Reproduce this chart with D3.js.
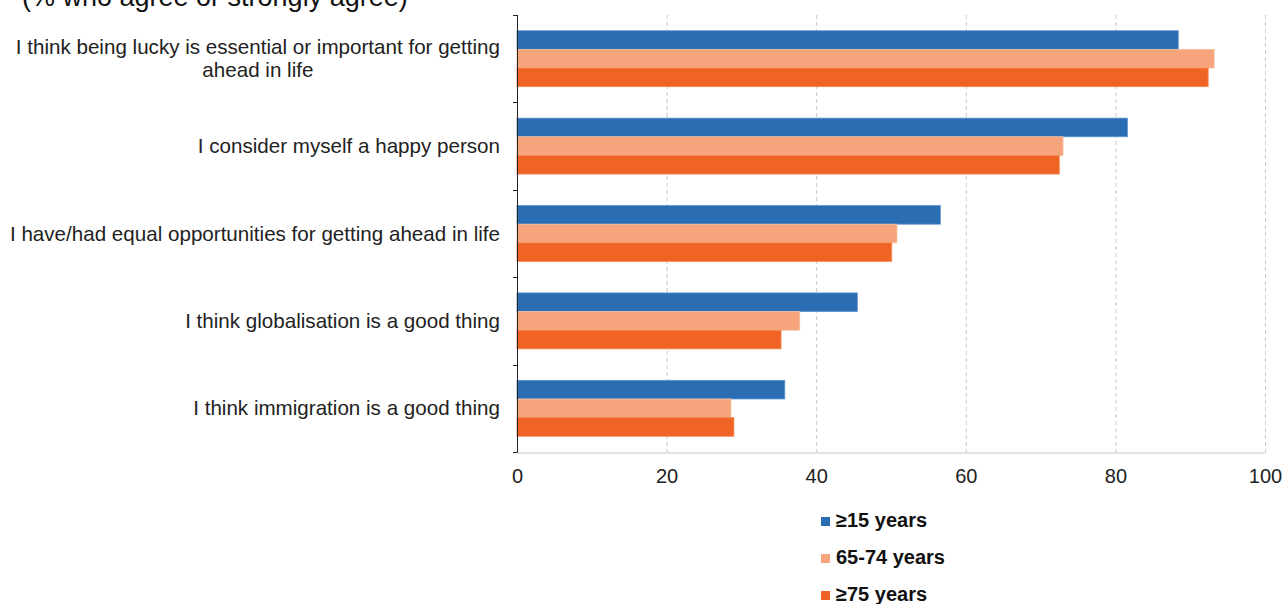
<!DOCTYPE html>
<html>
<head>
<meta charset="utf-8">
<script src="https://cdn.jsdelivr.net/npm/d3@7"></script>
<style>
  html, body { margin: 0; padding: 0; background: #fff; }
  svg { display: block; font-family: "Liberation Sans", Arial, sans-serif; }
</style>
</head>
<body>
<svg id="chart" width="1285" height="604"></svg>
<script>
// Survey statements (top to bottom)
const categories = [
  ["I think being lucky is essential or important for getting", "ahead in life"],
  ["I consider myself a happy person"],
  ["I have/had equal opportunities for getting ahead in life"],
  ["I think globalisation is a good thing"],
  ["I think immigration is a good thing"]
];
const seriesNames = ["\u226515 years", "65-74 years", "\u226575 years"];
const seriesColors = ["#2a6db3", "#f5a47b", "#ef6424"];
const seriesStroke = ["#5d93cc", "#f8c0a2", "#f48a57"];
// % who agree or strongly agree, one array per age group
const age15plus = [88.4, 81.6, 56.6, 45.5, 35.8];
const age65to74 = [93.2, 73.0, 50.8, 37.8, 28.6];
const age75plus = [92.4, 72.5, 50.1, 35.3, 29.0];
const xTicks = [0, 20, 40, 60, 80, 100];
const titleText = "(% who agree or strongly agree)";

const series = [age15plus, age65to74, age75plus];
const svg = d3.select("#chart");

const plotLeft = 517, plotRight = 1265, plotTop = 15, plotBottom = 452;

const x = d3.scaleLinear().domain([0, 100]).range([plotLeft, plotRight]);
const y = d3.scaleBand().domain(d3.range(categories.length)).range([plotTop, plotBottom])
  .paddingInner(0.36).paddingOuter(0.18);
const ySub = d3.scaleBand().domain(d3.range(series.length)).range([0, y.bandwidth()]);

// title (partly above the visible area)
svg.append("text").attr("x", 22).attr("y", 6)
  .attr("font-size", 27).attr("fill", "#111").text(titleText);

// dashed vertical gridlines
svg.append("g").selectAll("line").data(xTicks.filter(d => d > 0)).join("line")
  .attr("x1", d => x(d) + 0.5).attr("x2", d => x(d) + 0.5)
  .attr("y1", plotTop).attr("y2", plotBottom)
  .attr("stroke", "#c8c8c8").attr("stroke-width", 1).attr("stroke-dasharray", "4,3");

// bottom axis line and tick labels
const xAxis = d3.axisBottom(x).tickValues(xTicks).tickSize(0).tickPadding(16);
const gx = svg.append("g").attr("transform", `translate(0,${plotBottom + 0.5})`).call(xAxis);
gx.select(".domain").attr("stroke", "#c8c8c8");
gx.selectAll("text").attr("font-size", 20).attr("fill", "#222")
  .attr("font-family", "'Liberation Sans', Arial, sans-serif");

// bars
const groups = svg.append("g").selectAll("g").data(categories).join("g")
  .attr("transform", (d, i) => `translate(0,${y(i)})`);
groups.selectAll("rect")
  .data((d, i) => series.map((s, k) => ({ k, v: s[i] })))
  .join("rect")
  .attr("x", x(0))
  .attr("y", d => ySub(d.k))
  .attr("width", d => x(d.v) - x(0))
  .attr("height", ySub.bandwidth())
  .attr("fill", d => seriesColors[d.k])
  .attr("stroke", d => seriesStroke[d.k])
  .attr("stroke-width", 0.8);

// vertical axis with ticks between categories
const boundaries = d3.range(categories.length + 1).map(i => plotTop + i * (plotBottom - plotTop) / categories.length);
svg.append("line").attr("x1", plotLeft + 0.5).attr("x2", plotLeft + 0.5).attr("y1", plotTop).attr("y2", plotBottom + 0.5)
  .attr("stroke", "#222").attr("stroke-width", 1);
svg.append("g").selectAll("line").data(boundaries).join("line")
  .attr("x1", plotLeft - 4).attr("x2", plotLeft + 0.5)
  .attr("y1", d => Math.round(d) + 0.5).attr("y2", d => Math.round(d) + 0.5)
  .attr("stroke", "#222");

// category labels: block right-aligned, lines centred within the block
const labelRight = 500;
const lineH = 23;
categories.forEach((lines, i) => {
  const cy = y(i) + y.bandwidth() / 2;
  const t = svg.append("text").attr("font-size", 20.6).attr("fill", "#222").attr("text-anchor", "middle");
  lines.forEach((ln, j) => {
    t.append("tspan").attr("x", 0).attr("y", cy + (j - (lines.length - 1) / 2) * lineH + 7).text(ln);
  });
  const w = t.node().getBBox().width;
  t.selectAll("tspan").attr("x", labelRight - w / 2);
});

// legend
const legend = svg.append("g").selectAll("g").data(seriesNames).join("g")
  .attr("transform", (d, i) => `translate(821,${527 + i * 37})`);
legend.append("rect").attr("x", 0).attr("y", -10).attr("width", 9).attr("height", 9)
  .attr("fill", (d, i) => seriesColors[i]);
legend.append("text").attr("x", 15).attr("y", 0).attr("font-size", 20).attr("font-weight", "bold")
  .attr("fill", "#111").text(d => d);
</script>
</body>
</html>
